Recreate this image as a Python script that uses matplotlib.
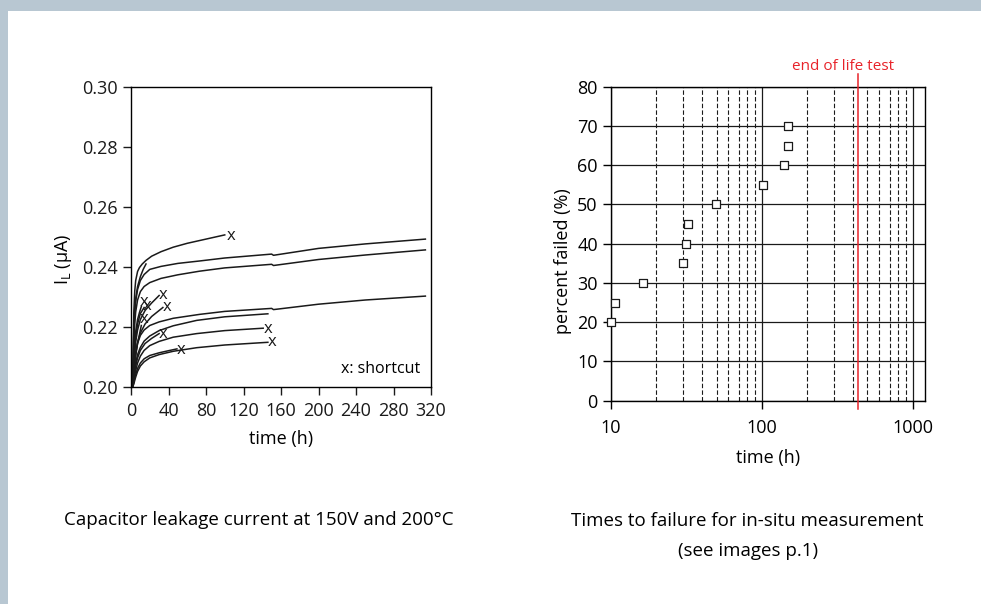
import matplotlib.pyplot as plt
from matplotlib.patches import Rectangle
from matplotlib.ticker import FixedLocator, NullFormatter

plt.rcParams["font.family"] = ["Open Sans", "DejaVu Sans"]

# --- left chart: leakage current curves (time h, current uA)
a_t = [2, 2.5, 3, 4, 5, 7, 9, 12, 16, 22, 32, 45, 60, 80, 100]
a_v = [0.202, 0.215, 0.225, 0.232, 0.2355, 0.2385, 0.2398, 0.241, 0.2422, 0.2436, 0.2451, 0.2466, 0.2479, 0.2493, 0.2507]
a2_t = [2, 2.5, 3, 4, 5, 7, 10, 13, 16]
a2_v = [0.202, 0.212, 0.219, 0.226, 0.2295, 0.2335, 0.2368, 0.2392, 0.241]
b_t = [2, 2.5, 3, 4, 5, 7, 10, 14, 20, 32, 50, 73, 100, 150, 152, 200, 250, 314]
b_v = [0.2015, 0.211, 0.218, 0.2245, 0.2285, 0.2325, 0.2355, 0.2375, 0.2392, 0.2402, 0.2412, 0.242, 0.243,
       0.2443, 0.2439, 0.2462, 0.2477, 0.2493]
c_t = [2, 2.5, 3, 4, 5, 7, 10, 14, 20, 32, 50, 73, 100, 150, 152, 200, 250, 314]
c_v = [0.201, 0.208, 0.214, 0.221, 0.225, 0.229, 0.2318, 0.2335, 0.2348, 0.2362, 0.2374, 0.2386, 0.2397,
       0.2409, 0.2405, 0.2425, 0.244, 0.2457]
d_t = [2, 3, 4, 5, 7, 10, 14, 20, 30, 45, 73, 100, 150, 152, 200, 250, 314]
d_v = [0.2008, 0.205, 0.2085, 0.211, 0.2145, 0.2172, 0.219, 0.2205, 0.2217, 0.2229, 0.2242, 0.2252,
       0.2262, 0.2258, 0.2276, 0.229, 0.2303]
e_t = [2, 3, 4, 5, 7, 10, 14, 20, 30, 45, 70, 100, 146]
e_v = [0.2006, 0.2035, 0.206, 0.208, 0.2108, 0.2132, 0.2153, 0.217, 0.2188, 0.2204, 0.2222, 0.2234, 0.2244]
f_t = [2, 3, 4, 5, 7, 10, 14, 20, 30, 45, 70, 100, 141]
f_v = [0.2004, 0.2022, 0.204, 0.2055, 0.208, 0.2103, 0.2122, 0.2138, 0.2152, 0.2166, 0.2178, 0.2188, 0.2196]
g_t = [2, 3, 4, 5, 7, 10, 14, 20, 30, 45, 70, 100, 146]
g_v = [0.2002, 0.201, 0.2022, 0.2033, 0.2052, 0.207, 0.2084, 0.2097, 0.2108, 0.2119, 0.2131, 0.214, 0.2149]
h_t = [2, 3, 4, 5, 7, 10, 14, 20, 30, 40, 49]
h_v = [0.2003, 0.2015, 0.203, 0.2042, 0.2062, 0.208, 0.2094, 0.2105, 0.2114, 0.2121, 0.2127]
s1_t = [2, 3, 4, 5, 7, 9, 11]
s1_v = [0.2015, 0.21, 0.215, 0.2185, 0.2225, 0.2248, 0.2268]
s2_t = [2, 3, 4, 5, 7, 10, 14]
s2_v = [0.2012, 0.208, 0.213, 0.2165, 0.221, 0.2245, 0.2265]
s3_t = [2, 3, 4, 5, 7, 10, 15, 22, 30]
s3_v = [0.2012, 0.207, 0.2115, 0.215, 0.219, 0.2225, 0.2255, 0.228, 0.2305]
s4_t = [2, 3, 4, 5, 7, 10, 15, 22, 34]
s4_v = [0.201, 0.2055, 0.209, 0.2115, 0.215, 0.218, 0.221, 0.2235, 0.2265]
s5_t = [2, 3, 4, 5, 7, 9, 11]
s5_v = [0.2008, 0.2045, 0.208, 0.2105, 0.2145, 0.2175, 0.2205]
s6_t = [2, 3, 4, 5, 7, 10, 15, 22, 30]
s6_v = [0.2006, 0.203, 0.2052, 0.207, 0.2097, 0.2122, 0.2145, 0.2162, 0.2178]
curves = [(a_t, a_v), (a2_t, a2_v), (b_t, b_v), (c_t, c_v), (d_t, d_v),
          (e_t, e_v), (f_t, f_v), (g_t, g_v), (h_t, h_v),
          (s1_t, s1_v), (s2_t, s2_v), (s3_t, s3_v), (s4_t, s4_v),
          (s5_t, s5_v), (s6_t, s6_v)]

# "x" shortcut marks
short_t = [106.7, 34, 14, 17.5, 38.4, 14, 34, 53, 146, 151]
short_v = [0.2511, 0.2313, 0.2289, 0.2276, 0.2272, 0.2232, 0.2183, 0.2129, 0.2199, 0.2155]

# --- right chart: times to failure
fail_t = [10, 10.6, 16.4, 30.1, 31.4, 32.5, 49.5, 102, 140, 148, 148]
fail_pct = [20, 25, 30, 35, 40, 45, 50, 55, 60, 65, 70]
end_of_life = 430

fig = plt.figure(figsize=(9.81, 6.04), dpi=100)
fig.patch.set_facecolor("#b8c7d2")
fig.patches.append(Rectangle((8 / 981, 0), 1, 593 / 604, transform=fig.transFigure,
                             facecolor="white", edgecolor="none", zorder=-5))

ax1 = fig.add_axes([131 / 981, 1 - 387 / 604, 300 / 981, 300 / 604])
for t, v in curves:
    ax1.plot(t, v, color="#1a1a1a", lw=1.1)
for t, v in zip(short_t, short_v):
    ax1.text(t, v, "x", ha="center", va="center_baseline", fontsize=12, color="#1a1a1a")
ax1.set_xlim(0, 320)
ax1.set_ylim(0.20, 0.30)
ax1.set_xticks(range(0, 321, 40))
ax1.set_yticks([0.20, 0.22, 0.24, 0.26, 0.28, 0.30])
ax1.set_yticklabels(["0.20", "0.22", "0.24", "0.26", "0.28", "0.30"])
ax1.tick_params(direction="out", length=6, width=1, labelsize=13, colors="#1a1a1a")
ax1.tick_params(axis="x", pad=5)
ax1.set_xlabel("time (h)", fontsize=13, labelpad=7)
ax1.set_ylabel(r"I$_\mathregular{L}$ (µA)", fontsize=13)
ax1.yaxis.set_label_coords(-0.19, 0.427)
ax1.text(0.965, 0.06, "x: shortcut", transform=ax1.transAxes, ha="right", va="center",
         fontsize=11.5)
for s in ax1.spines.values():
    s.set_linewidth(1)

ax2 = fig.add_axes([611 / 981, 1 - 400.7 / 604, 314 / 981, 314 / 604])
ax2.set_xscale("log")
ax2.set_xlim(10, 1202)
ax2.set_ylim(0, 80)
ax2.set_yticks(range(0, 81, 10))
ax2.xaxis.set_major_locator(FixedLocator([10, 100, 1000]))
ax2.xaxis.set_minor_locator(FixedLocator([k * 10 for k in range(2, 10)] + [k * 100 for k in range(2, 10)]))
ax2.xaxis.set_minor_formatter(NullFormatter())
ax2.set_xticklabels(["10", "100", "1000"])
ax2.tick_params(which="major", direction="out", length=6, width=1, labelsize=13)
ax2.tick_params(axis="x", pad=7)
ax2.tick_params(which="minor", length=0)
ax2.grid(axis="y", color="#1a1a1a", lw=0.9)
ax2.grid(axis="x", which="major", color="#1a1a1a", lw=0.9)
ax2.grid(axis="x", which="minor", color="#1a1a1a", lw=0.8, ls=(0, (4, 2)))
ax2.scatter(fail_t, fail_pct, marker="s", s=30, facecolors="white",
            edgecolors="#1a1a1a", linewidths=0.9, zorder=3, clip_on=False)
ax2.axvline(end_of_life, ymin=-0.025, ymax=1.04, color="#e8232a", lw=1.1,
            clip_on=False, zorder=4)
ax2.set_xlabel("time (h)", fontsize=13, labelpad=9)
ax2.set_ylabel("percent failed (%)", fontsize=13)
ax2.yaxis.set_label_coords(-0.125, 0.443)
for s in ax2.spines.values():
    s.set_linewidth(1)

fig.text(843 / 981, 1 - 66 / 604, "end of life test", color="#e8232a",
         ha="center", va="center", fontsize=11)
fig.text(259 / 981, 1 - 520 / 604, "Capacitor leakage current at 150V and 200°C",
         ha="center", va="center", fontsize=13.5)
fig.text(747 / 981, 1 - 521 / 604, "Times to failure for in-situ measurement",
         ha="center", va="center", fontsize=13.5)
fig.text(748 / 981, 1 - 551 / 604, "(see images p.1)",
         ha="center", va="center", fontsize=13.5)

fig.savefig("out.png", dpi=100)
